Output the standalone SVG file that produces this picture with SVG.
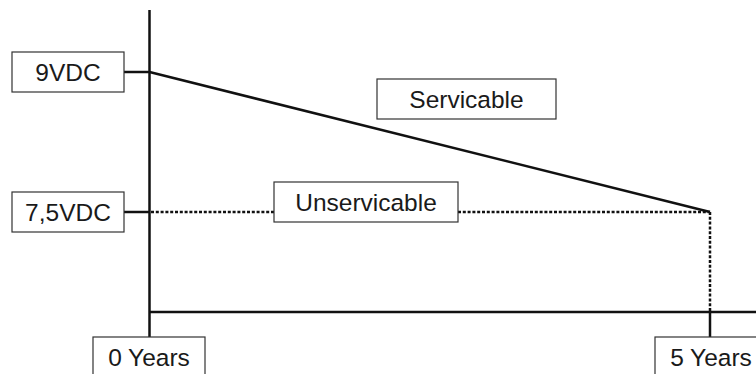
<svg xmlns="http://www.w3.org/2000/svg" width="756" height="374" viewBox="0 0 756 374">
<style>
.box{fill:#fff;stroke:#333;stroke-width:1.2}
.lbl{font-family:"Liberation Sans",Arial,sans-serif;font-size:24.5px;fill:#1a1a1a;text-anchor:middle}
.solid{stroke:#111;stroke-width:2.5;fill:none}
.dot{stroke:#111;stroke-width:2.5;fill:none;stroke-dasharray:3 1.8}
</style>
<rect width="756" height="374" fill="#fff"/>
<g id="connectors">
<line class="solid" x1="149.5" y1="10" x2="149.5" y2="337"/>
<line class="solid" x1="149.5" y1="312" x2="756" y2="312"/>
<line class="solid" x1="124" y1="72" x2="149.5" y2="72"/>
<line class="solid" x1="124" y1="212" x2="149.5" y2="212"/>
<line class="solid" x1="149.5" y1="72" x2="710" y2="212"/>
<line class="dot" x1="151" y1="212" x2="274" y2="212"/>
<line class="dot" x1="458" y1="212" x2="710" y2="212"/>
<line class="dot" x1="710" y1="212" x2="710" y2="311"/>
<line class="solid" x1="710" y1="312" x2="710" y2="337"/>
</g>
<g id="v9">
<rect class="box" x="12" y="52" width="112" height="40"/>
<text class="lbl" x="68" y="81">9VDC</text>
</g>
<g id="v75">
<rect class="box" x="12" y="192" width="112" height="40"/>
<text class="lbl" x="68" y="221">7,5VDC</text>
</g>
<g id="servicable">
<rect class="box" x="377" y="79" width="179" height="40"/>
<text class="lbl" x="466.5" y="108">Servicable</text>
</g>
<g id="unservicable">
<rect class="box" x="274" y="182" width="184" height="40"/>
<text class="lbl" x="366" y="211">Unservicable</text>
</g>
<g id="y0">
<rect class="box" x="93" y="337" width="112" height="40"/>
<text class="lbl" x="149" y="366">0 Years</text>
</g>
<g id="y5">
<rect class="box" x="655" y="337" width="112" height="40"/>
<text class="lbl" x="711" y="366">5 Years</text>
</g>
</svg>
